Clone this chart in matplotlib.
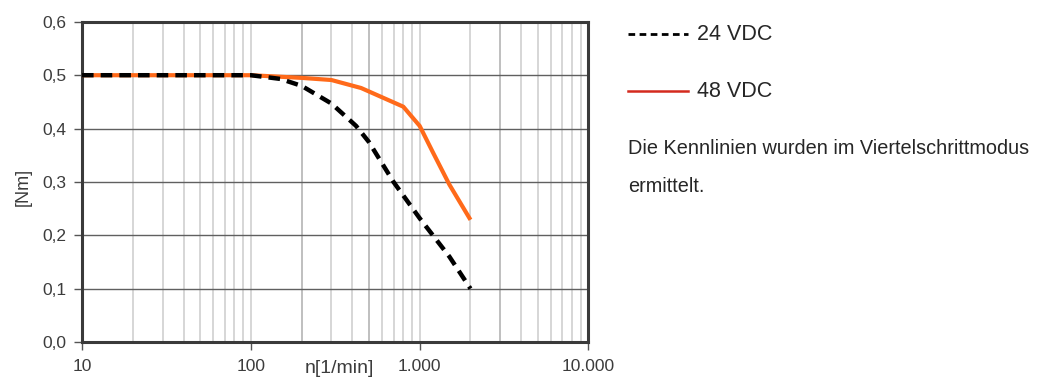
import matplotlib.pyplot as plt
from matplotlib.lines import Line2D
from matplotlib.ticker import FixedLocator, LogLocator, NullFormatter

plt.rcParams['font.family'] = ['Liberation Sans', 'DejaVu Sans']

# Torque curves (speed in 1/min, torque in Nm)
speed_24 = [10, 50, 100, 150, 200, 300, 420, 500, 700, 1000, 1500, 2000]
torque_24 = [0.5, 0.5, 0.5, 0.493, 0.48, 0.447, 0.405, 0.375, 0.30, 0.232, 0.16, 0.10]
speed_48 = [10, 50, 100, 200, 300, 450, 800, 1000, 1200, 1500, 2000]
torque_48 = [0.5, 0.5, 0.5, 0.495, 0.491, 0.476, 0.441, 0.405, 0.355, 0.295, 0.229]

x_ticks = [10, 100, 1000, 10000]
x_tick_labels = ['10', '100', '1.000', '10.000']
y_ticks = [0.0, 0.1, 0.2, 0.3, 0.4, 0.5, 0.6]
y_tick_labels = ['0,0', '0,1', '0,2', '0,3', '0,4', '0,5', '0,6']
dark_vlines = [200, 500, 3000]   # grid lines that show darker in the source

fig = plt.figure(figsize=(10.41, 3.78), dpi=100)
ax = fig.add_axes([0.0788, 0.0952, 0.4865, 0.847])

ax.set_xscale('log')
ax.set_xlim(10, 10000)
ax.set_ylim(0, 0.6)

# grid
ax.xaxis.set_minor_locator(LogLocator(base=10, subs=range(2, 10)))
ax.xaxis.set_minor_formatter(NullFormatter())
ax.grid(True, which='both', axis='x', color='#cfcfcf', lw=1.2)
ax.grid(True, which='major', axis='y', color='#606060', lw=1.0)
for xv in dark_vlines:
    ax.axvline(xv, color='#606060', lw=1.2, zorder=1)

ax.plot(speed_48, torque_48, color='#ff6a1a', lw=3.0, solid_capstyle='butt', zorder=3)
ax.plot(speed_24, torque_24, color='black', lw=3.2, dashes=(2.6, 1.6), zorder=4)

ax.xaxis.set_major_locator(FixedLocator(x_ticks))
ax.set_xticklabels(x_tick_labels)
ax.set_yticks(y_ticks)
ax.set_yticklabels(y_tick_labels)
ax.tick_params(which='major', direction='out', length=6, width=1, color='#555555',
               labelsize=12.5, labelcolor='#3c3c3c')
ax.tick_params(axis='y', pad=5)
ax.tick_params(axis='x', pad=6)
ax.tick_params(which='minor', length=0)

for s in ax.spines.values():
    s.set_color('#3a3a3a')
    s.set_linewidth(2.2)

fig.text(0.293, 0.026, 'n[1/min]', fontsize=14, color='#3c3c3c', ha='left', va='center')
fig.text(0.022, 0.505, '[Nm]', fontsize=13, color='#3c3c3c', rotation=90,
         ha='center', va='center')

# legend block on the right
fig.add_artist(Line2D([0.603, 0.661], [0.910, 0.910], color='black', lw=2.0,
                      dashes=(2.4, 1.6), transform=fig.transFigure))
fig.add_artist(Line2D([0.603, 0.661], [0.759, 0.759], color='#d42a1e', lw=1.8,
                      transform=fig.transFigure))
fig.text(0.670, 0.910, '24 VDC', fontsize=15.5, color='#262626', va='center')
fig.text(0.670, 0.759, '48 VDC', fontsize=15.5, color='#262626', va='center')
fig.text(0.603, 0.608, 'Die Kennlinien wurden im Viertelschrittmodus', fontsize=14.3,
         color='#262626', va='center')
fig.text(0.603, 0.507, 'ermittelt.', fontsize=14.3, color='#262626', va='center')

fig.savefig('out.png', dpi=100)
